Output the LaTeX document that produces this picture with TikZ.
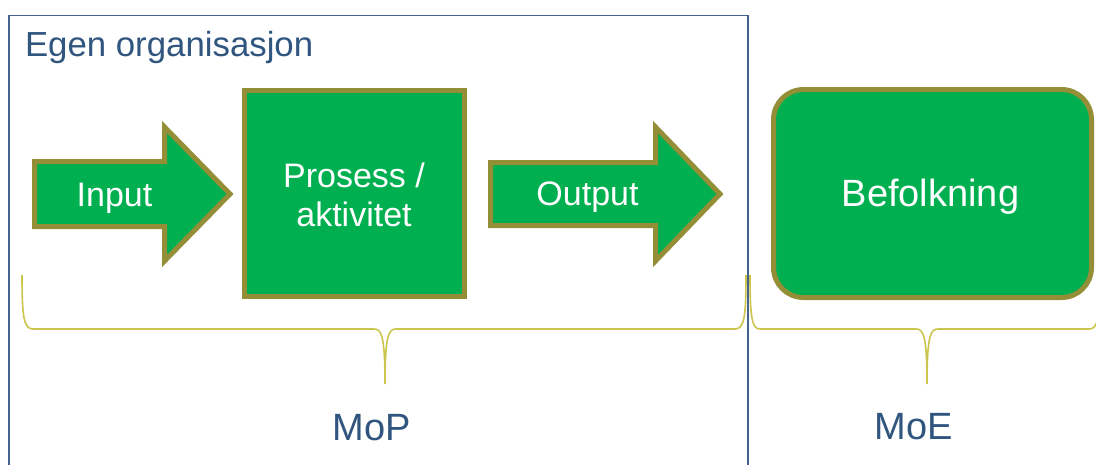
\documentclass[tikz,border=0pt]{standalone}
\usepackage{fontspec}
\setmainfont{Liberation Sans}
\begin{document}
\begin{tikzpicture}[x=1pt,y=-1pt,
  every node/.style={inner sep=0pt,outer sep=0pt},
  fillgreen/.style={fill=boxgreen,draw=boxolive,line width=5pt,line join=miter},
  whitetxt/.style={text=white,font=\fontsize{34}{40}\selectfont},
  bluetxt/.style={text=titleblue,font=\fontsize{38}{44}\selectfont},
  bracestyle/.style={draw=braceyellow,line width=1.6pt},
  framestyle/.style={draw=frameblue,line width=1.4pt}]
\definecolor{boxgreen}{HTML}{00AF50}
\definecolor{boxolive}{HTML}{948E37}
\definecolor{braceyellow}{HTML}{CBC54E}
\definecolor{frameblue}{HTML}{45638D}
\definecolor{titleblue}{HTML}{30557F}
\useasboundingbox[fill=white] (0,0) rectangle (1096,464);

% organisation frame, open at the bottom
\draw[framestyle] (9,470) -- (9,15.7) -- (748,15.7) -- (748,470);
\node[anchor=base west,text=titleblue,font=\fontsize{34.8}{40}\selectfont] (org) at (25,56) {Egen organisasjon};

% input arrow
\draw[fillgreen] (34.5,161.5) -- (164.5,161.5) -- (164.5,127) -- (230,194) -- (164.5,261) -- (164.5,226.5) -- (34.5,226.5) -- cycle;
\node[whitetxt,anchor=base] (input) at (114.5,206) {Input};

% process box
\node[fillgreen,minimum width=220pt,minimum height=206pt] (proc) at (354.5,193.5) {};
\node[whitetxt,anchor=base] (proc1) at (354,187) {Prosess /};
\node[whitetxt,anchor=base] (proc2) at (354,226) {aktivitet};

% output arrow
\draw[fillgreen] (490.5,162.5) -- (655.5,162.5) -- (655.5,127) -- (720,194) -- (655.5,261) -- (655.5,225.5) -- (490.5,225.5) -- cycle;
\node[whitetxt,anchor=base] (output) at (587.5,205) {Output};

% population box
\node[fillgreen,rounded corners=30pt,minimum width=318pt,minimum height=208pt] (pop) at (932.5,193.5) {};
\node[text=white,font=\fontsize{38}{44}\selectfont,anchor=base] (poptxt) at (930.5,206.5) {Befolkning};

% braces
\coordinate (b1l) at (22,275);
\coordinate (b1t) at (385,384);
\coordinate (b1r) at (746,275);
\draw[bracestyle] (b1l) .. controls (22,318) and (24,329) .. (33,329) -- (374,329)
  .. controls (381,329) and (385,334) .. (b1t)
  .. controls (385,334) and (389,329) .. (396,329) -- (735,329)
  .. controls (744,329) and (746,318) .. (b1r);
\coordinate (b2l) at (750,275);
\coordinate (b2t) at (927,384);
\coordinate (b2r) at (1100,275);
\draw[bracestyle] (b2l) .. controls (750,318) and (752,329) .. (760,329) -- (916,329)
  .. controls (923,329) and (927,334) .. (b2t)
  .. controls (927,334) and (931,329) .. (938,329) -- (1089,329)
  .. controls (1098,329) and (1100,318) .. (b2r);

\node[bluetxt,anchor=base] (mop) at (371.5,440) {MoP};
\node[bluetxt,anchor=base] (moe) at (914,439) {MoE};
\end{tikzpicture}
\end{document}
